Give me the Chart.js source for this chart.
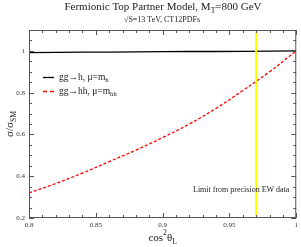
<!DOCTYPE html>
<html>
<head>
<meta charset="utf-8">
<script src="https://cdn.jsdelivr.net/npm/chart.js@4.4.0/dist/chart.umd.min.js"></script>
<style>
  html, body { margin: 0; padding: 0; background: #fff; }
  #wrap { width: 301px; height: 247px; }
</style>
</head>
<body>
<div id="wrap"><canvas id="c" width="301" height="247"></canvas></div>
<script>
(function(){
  'use strict';

  // cos^2(theta_L) sample points and the two ratio curves
  const cos2    = [0.80, 0.82, 0.84, 0.86, 0.88, 0.90, 0.92, 0.94, 0.96, 0.98, 1.00];
  const ratioH  = [0.992, 0.993, 0.994, 0.994, 0.995, 0.996, 0.997, 0.997, 0.998, 0.999, 1.000];
  const ratioHH = [0.32, 0.365, 0.415, 0.47, 0.525, 0.585, 0.65, 0.725, 0.81, 0.90, 1.00];
  const ewLimit = 0.97;

  const xTicks = [0.8, 0.85, 0.9, 0.95, 1];
  const yTicks = [0.2, 0.4, 0.6, 0.8, 1];
  const xMinor = [0.81,0.82,0.83,0.84,0.86,0.87,0.88,0.89,0.91,0.92,0.93,0.94,0.96,0.97,0.98,0.99];
  const yMinor = [0.25,0.3,0.35,0.45,0.5,0.55,0.65,0.7,0.75,0.85,0.9,0.95,1.05];

  const serif = "'Liberation Serif', 'DejaVu Serif', serif";
  const frameColor = '#555';

  function pts(xs, ys) {
    return xs.map((x, i) => ({ x: x, y: ys[i] }));
  }

  // draws a run of text pieces with optional sub/superscripts
  function richText(ctx, parts, x, y, size, align) {
    let total = 0;
    parts.forEach(p => {
      const s = p.sub || p.sup ? size * 0.7 : size;
      ctx.font = s + 'px ' + serif;
      p.w = ctx.measureText(p.t).width;
      total += p.w;
    });
    let cx = align === 'center' ? x - total / 2 : x;
    ctx.textBaseline = 'middle';
    ctx.textAlign = 'left';
    parts.forEach(p => {
      const s = p.sub || p.sup ? size * 0.7 : size;
      ctx.font = s + 'px ' + serif;
      let dy = 0;
      if (p.sub) dy = size * 0.35;
      if (p.sup) dy = -size * 0.45;
      ctx.fillText(p.t, cx, y + dy);
      cx += p.w;
    });
  }

  const decorPlugin = {
    id: 'decor',
    afterDatasetsDraw(chart) {
      const ctx = chart.ctx;
      const a = chart.chartArea;
      const xs = chart.scales.x;
      const ys = chart.scales.y;
      ctx.save();

      // frame
      ctx.strokeStyle = frameColor;
      ctx.lineWidth = 1;
      ctx.strokeRect(a.left + 0.5, a.top + 0.5, a.right - a.left - 1, a.bottom - a.top - 1);

      // inward ticks on all four sides
      ctx.beginPath();
      function xt(v, len) {
        const px = Math.round(xs.getPixelForValue(v)) + 0.5;
        ctx.moveTo(px, a.bottom); ctx.lineTo(px, a.bottom - len);
        ctx.moveTo(px, a.top); ctx.lineTo(px, a.top + len);
      }
      function yt(v, len) {
        const py = Math.round(ys.getPixelForValue(v)) + 0.5;
        ctx.moveTo(a.left, py); ctx.lineTo(a.left + len, py);
        ctx.moveTo(a.right, py); ctx.lineTo(a.right - len, py);
      }
      xTicks.forEach(v => xt(v, 5));
      xMinor.forEach(v => xt(v, 3));
      yTicks.forEach(v => yt(v, 5));
      yMinor.forEach(v => yt(v, 3));
      ctx.stroke();

      ctx.fillStyle = '#222';
      // titles
      richText(ctx, [{t: 'Fermionic Top Partner Model, M'}, {t: 'T', sub: true}, {t: '=800 GeV'}],
        163, 7, 11, 'center');
      richText(ctx, [{t: '\u221AS=13 TeV, CT12PDFs'}], 162, 20, 8, 'center');

      // legend
      ctx.lineWidth = 1.3;
      ctx.strokeStyle = '#000';
      ctx.beginPath(); ctx.moveTo(43, 77.5); ctx.lineTo(54, 77.5); ctx.stroke();
      ctx.strokeStyle = '#ff0000';
      ctx.setLineDash([4, 3]);
      ctx.beginPath(); ctx.moveTo(43, 91.5); ctx.lineTo(54, 91.5); ctx.stroke();
      ctx.setLineDash([]);
      ctx.fillStyle = '#222';
      richText(ctx, [{t: 'gg\u2192h, \u03BC=m'}, {t: 'h', sub: true}], 59, 77, 9.5, 'left');
      richText(ctx, [{t: 'gg\u2192hh, \u03BC=m'}, {t: 'hh', sub: true}], 59, 91, 9.5, 'left');

      // annotation
      richText(ctx, [{t: 'Limit from precision EW data'}], 193, 190, 8, 'left');

      // axis titles
      richText(ctx, [{t: 'cos'}, {t: '2', sup: true}, {t: '\u03B8'}, {t: 'L', sub: true}],
        (a.left + a.right) / 2, 238, 11, 'center');
      ctx.translate(10, (a.top + a.bottom) / 2);
      ctx.rotate(-Math.PI / 2);
      richText(ctx, [{t: '\u03C3/\u03C3'}, {t: 'SM', sub: true}], 0, 0, 11, 'center');

      ctx.restore();
    }
  };

  new Chart(document.getElementById('c'), {
    type: 'line',
    data: {
      datasets: [
        {
          data: [{x: ewLimit, y: 0.2}, {x: ewLimit, y: 1.1}],
          borderColor: '#ffff00',
          borderWidth: 2,
          pointRadius: 0
        },
        {
          data: pts(cos2, ratioH),
          borderColor: '#000',
          borderWidth: 1.3,
          pointRadius: 0
        },
        {
          data: pts(cos2, ratioHH),
          borderColor: '#ff0000',
          borderWidth: 1.3,
          borderDash: [3, 2],
          tension: 0.4,
          pointRadius: 0
        }
      ]
    },
    options: {
      responsive: false,
      animation: false,
      layout: { padding: { top: 30, right: 3, left: 0, bottom: 0 } },
      plugins: { legend: { display: false }, tooltip: { enabled: false } },
      scales: {
        x: {
          type: 'linear',
          min: 0.8,
          max: 1.0,
          afterBuildTicks: s => { s.ticks = xTicks.map(v => ({ value: v })); },
          afterFit: s => { s.height = 29; },
          grid: { display: false, drawTicks: false },
          border: { display: false },
          ticks: {
            padding: 3,
            maxRotation: 0,
            color: '#333',
            font: { family: serif, size: 7 },
            callback: v => String(Math.round(v * 100) / 100)
          }
        },
        y: {
          type: 'linear',
          min: 0.2,
          max: 1.1,
          afterBuildTicks: s => { s.ticks = yTicks.map(v => ({ value: v })); },
          afterFit: s => { s.width = 29; },
          grid: { display: false, drawTicks: false },
          border: { display: false },
          ticks: {
            padding: 4,
            color: '#333',
            font: { family: serif, size: 7 },
            callback: v => String(Math.round(v * 10) / 10)
          }
        }
      }
    },
    plugins: [decorPlugin]
  });
}());
</script>
</body>
</html>
